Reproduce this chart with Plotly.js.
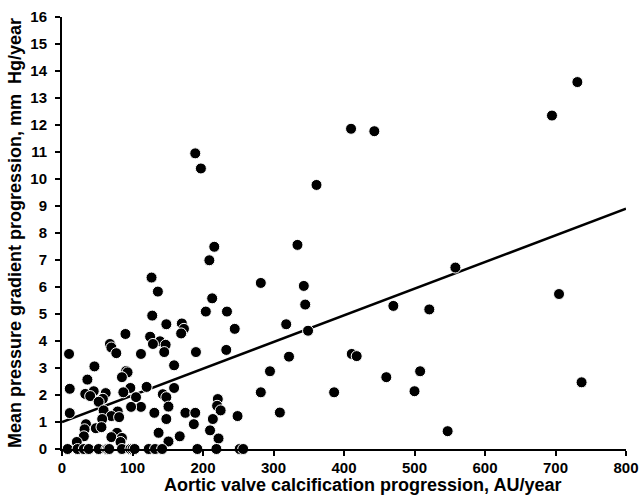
<!DOCTYPE html>
<html>
<head>
<meta charset="utf-8">
<script src="https://cdn.plot.ly/plotly-3.0.1.min.js"></script>
<style>html,body{margin:0;padding:0;background:#fff;}#chart{width:640px;height:496px;}</style>
</head>
<body>
<div id="chart"></div>
<script>
// Scatter points: aortic valve calcification progression (AU/year) vs mean gradient progression (mm Hg/year)
var calcProgression = [
  731, 695, 410, 443, 189, 197, 361, 334, 216, 209, 558, 127, 282, 343, 136, 705, 213, 345, 470, 521,
  204, 234, 128, 318, 148, 170, 173, 169, 245, 349, 90, 125, 139, 147, 129, 68, 70, 77, 10, 112,
  190, 145, 233, 411, 418, 322, 159, 46, 508, 91, 93, 295, 460, 36, 85, 737, 120, 97, 11, 159,
  45, 500, 386, 282, 87, 62, 33, 40, 143, 148, 58, 105, 52, 221, 220, 225, 112, 98, 151, 59,
  11, 79, 70, 131, 175, 189, 309, 81, 249, 214, 57, 148, 34, 187, 48, 56, 32, 210, 547, 137,
  78, 70, 85, 167, 31, 222, 21, 151, 83,
  8, 22, 31, 38, 52, 63, 65, 67, 85, 97, 100, 103, 123, 132, 142, 192, 219, 252, 257
];
var gradientProgression = [
  13.59, 12.35, 11.86, 11.77, 10.95, 10.39, 9.78, 7.56, 7.49, 6.99, 6.72, 6.35, 6.15, 6.04, 5.83, 5.74, 5.58, 5.35, 5.30, 5.17,
  5.09, 5.09, 4.94, 4.62, 4.62, 4.65, 4.45, 4.28, 4.45, 4.38, 4.26, 4.16, 3.99, 3.86, 3.89, 3.89, 3.76, 3.55, 3.52, 3.52,
  3.59, 3.59, 3.67, 3.52, 3.44, 3.42, 3.10, 3.06, 2.88, 2.89, 2.84, 2.88, 2.66, 2.57, 2.66, 2.47, 2.30, 2.26, 2.23, 2.26,
  2.14, 2.14, 2.10, 2.10, 2.10, 2.07, 2.04, 1.96, 2.03, 1.92, 1.86, 1.92, 1.75, 1.85, 1.60, 1.43, 1.56, 1.56, 1.57, 1.43,
  1.33, 1.39, 1.22, 1.34, 1.34, 1.34, 1.35, 1.18, 1.22, 1.11, 1.11, 1.11, 0.92, 0.92, 0.77, 0.81, 0.73, 0.69, 0.66, 0.60,
  0.60, 0.44, 0.41, 0.47, 0.47, 0.39, 0.26, 0.28, 0.26,
  0, 0, 0, 0, 0, 0, 0, 0, 0, 0, 0, 0, 0, 0, 0, 0, 0, 0, 0
];
// Regression line end points
var fitX = [0, 800];
var fitY = [1.0, 8.9];

var xTickVals = [0, 100, 200, 300, 400, 500, 600, 700, 800];
var yTickVals = [0, 1, 2, 3, 4, 5, 6, 7, 8, 9, 10, 11, 12, 13, 14, 15, 16];
var xTitle = 'Aortic valve calcification progression, AU/year';
var yTitle = 'Mean pressure gradient progression, mm&nbsp; Hg/year';

var fontFamily = '"Liberation Sans", Arial, sans-serif';

var traces = [
  {
    x: fitX, y: fitY, type: 'scatter', mode: 'lines',
    line: {color: '#000', width: 2.5}, hoverinfo: 'skip', cliponaxis: false
  },
  {
    x: calcProgression, y: gradientProgression, type: 'scatter', mode: 'markers',
    marker: {color: '#000', size: 11, line: {color: '#fff', width: 1}},
    cliponaxis: false
  }
];

var layout = {
  width: 640, height: 496,
  margin: {l: 62, r: 14, t: 17, b: 47},
  paper_bgcolor: '#fff', plot_bgcolor: '#fff',
  showlegend: false,
  font: {family: fontFamily, color: '#000'},
  xaxis: {
    range: [0, 800], tickvals: xTickVals, ticktext: xTickVals.map(String),
    showgrid: false, zeroline: false, showline: true, linecolor: '#000', linewidth: 2,
    ticks: 'outside', ticklen: 5, tickwidth: 2, tickcolor: '#000', ticklabelstandoff: -1,
    tickfont: {family: fontFamily, size: 15, color: '#000', weight: 'bold'}
  },
  yaxis: {
    range: [0, 16], tickvals: yTickVals, ticktext: yTickVals.map(String),
    showgrid: false, zeroline: false, showline: true, linecolor: '#000', linewidth: 2,
    ticks: 'outside', ticklen: 5, tickwidth: 2, tickcolor: '#000', ticklabelstandoff: 5,
    tickfont: {family: fontFamily, size: 15, color: '#000', weight: 'bold'},
    title: {text: '<b>' + yTitle + '</b>',
      font: {family: fontFamily, size: 18, color: '#000'}, standoff: 4}
  },
  annotations: [{
    text: '<b>' + xTitle + '</b>', xref: 'paper', yref: 'paper',
    x: 0.532, y: -0.1088, xanchor: 'center', yanchor: 'bottom', showarrow: false,
    borderpad: 0,
    font: {family: fontFamily, size: 18, color: '#000'}
  }]
};

Plotly.newPlot('chart', traces, layout, {displayModeBar: false, staticPlot: true});
</script>
</body>
</html>
